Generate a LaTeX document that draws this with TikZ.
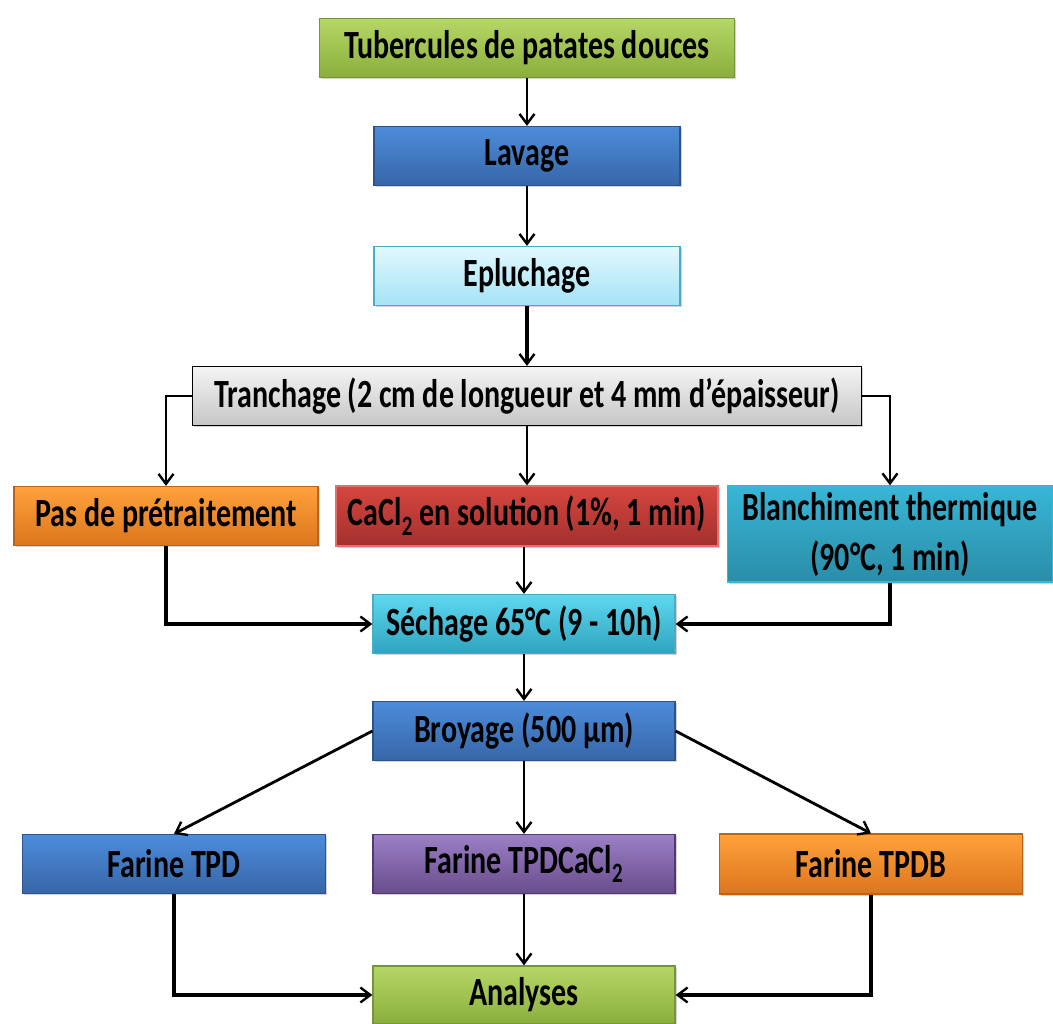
\documentclass[tikz,border=0pt]{standalone}
\usepackage{fontspec}
\setmainfont{Carlito}[FakeStretch=0.75]
\usepackage{tikz}
\usetikzlibrary{arrows.meta,positioning,shadows}
\definecolor{grntop}{HTML}{B5D767}
\definecolor{grnbot}{HTML}{8AAE3C}
\definecolor{grnline}{HTML}{76963A}
\definecolor{blutop}{HTML}{4C8CDA}
\definecolor{blubot}{HTML}{3766A8}
\definecolor{bluline}{HTML}{2C5488}
\definecolor{cyntop}{HTML}{E2F8FE}
\definecolor{cynbot}{HTML}{A4E3F6}
\definecolor{cynline}{HTML}{4BACC6}
\definecolor{grytop}{HTML}{F4F4F4}
\definecolor{grybot}{HTML}{C6C6C6}
\definecolor{orgtop}{HTML}{FFA13C}
\definecolor{orgbot}{HTML}{DC761C}
\definecolor{orgline}{HTML}{B8641A}
\definecolor{redtop}{HTML}{D6463F}
\definecolor{redbot}{HTML}{A3302D}
\definecolor{redline}{HTML}{E07070}
\definecolor{teatop}{HTML}{38B6D6}
\definecolor{teabot}{HTML}{2A8DA8}
\definecolor{sectop}{HTML}{5ED8F0}
\definecolor{secbot}{HTML}{2FA3BF}
\definecolor{purtop}{HTML}{9C80C6}
\definecolor{purbot}{HTML}{684C8C}
\definecolor{purline}{HTML}{503A70}

\begin{document}
\begin{tikzpicture}[x=1pt,y=-1pt,
every node/.style={font=\bfseries\fontsize{40}{50}\selectfont},
box/.style={rectangle,line width=1.2pt,align=center,inner sep=0pt,
  drop shadow={shadow xshift=1.5pt,shadow yshift=-1.5pt,opacity=0.35}},
grnbox/.style={box,draw=grnline,top color=grntop,bottom color=grnbot},
blubox/.style={box,draw=bluline,top color=blutop,bottom color=blubot},
cynbox/.style={box,draw=cynline,top color=cyntop,bottom color=cynbot},
grybox/.style={box,draw=black,top color=grytop,bottom color=grybot},
orgbox/.style={box,draw=orgline,top color=orgtop,bottom color=orgbot},
redbox/.style={box,draw=redline,top color=redtop,bottom color=redbot},
teabox/.style={box,draw=teatop,top color=teatop,bottom color=teabot},
secbox/.style={box,draw=cynline,top color=sectop,bottom color=secbot},
purbox/.style={box,draw=purline,top color=purtop,bottom color=purbot},
arr/.style={-{Straight Barb[length=10pt,width=15pt,line width=2.4pt]},line width=2.8pt},
fat/.style={arr,line width=4.6pt}
]
\useasboundingbox (0,0) rectangle (1053,1024);

\node[grnbox,minimum width=415pt,minimum height=59pt] (tub) at (527,48) {Tubercules de patates douces};
\node[blubox,minimum width=306pt,minimum height=59pt] (lav) at (527,156) {Lavage};
\node[cynbox,minimum width=306pt,minimum height=59pt] (epl) at (527,276) {Epluchage};
\node[grybox,minimum width=669pt,minimum height=59pt] (tra) at (527,396) {Tranchage (2 cm de longueur et 4 mm d’épaisseur)};

\node[orgbox,minimum width=304pt,minimum height=59pt] (pas) at (166,516) {Pas de prétraitement};
\node[redbox,minimum width=382pt,minimum height=60pt] (cac) at (527,516) {CaCl\textsubscript{2} en solution (1\%, 1 min)};
\node[teabox,minimum width=325pt,minimum height=96pt] (bla) at (890,534) {Blanchiment thermique\\(90°C, 1 min)};

\node[secbox,minimum width=302pt,minimum height=59pt] (sec) at (524,624) {Séchage 65°C (9 - 10h)};
\node[blubox,minimum width=302pt,minimum height=59pt] (bro) at (524,731) {Broyage (500 µm)};

\node[blubox,minimum width=303pt,minimum height=59pt] (tpd) at (174,864) {Farine TPD};
\node[purbox,minimum width=302pt,minimum height=59pt] (tpc) at (524,864) {Farine TPDCaCl\textsubscript{2}};
\node[orgbox,minimum width=303pt,minimum height=60pt] (tpb) at (871,864) {Farine TPDB};

\node[grnbox,minimum width=302pt,minimum height=58pt] (ana) at (524,995) {Analyses};

\draw[arr] (tub) -- (lav);
\draw[arr] (lav) -- (epl);
\draw[fat] (epl) -- (tra);
\draw[arr] (tra.west) -| (pas.north);
\draw[arr] (tra.south -| cac.north) -- (cac.north);
\draw[arr] (tra.east) -| (bla.north);
\draw[fat] (pas.south) |- (sec.west);
\draw[arr] (cac.south -| sec.north) -- (sec.north);
\draw[fat] (bla.south) |- (sec.east);
\draw[arr] (sec) -- (bro);
\draw[arr] (bro.west) -- (tpd.north);
\draw[arr] (bro) -- (tpc);
\draw[arr] (bro.east) -- (tpb.north);
\draw[fat] (tpd.south) |- (ana.west);
\draw[arr] (tpc) -- (ana);
\draw[fat] (tpb.south) |- (ana.east);
\end{tikzpicture}
\end{document}
